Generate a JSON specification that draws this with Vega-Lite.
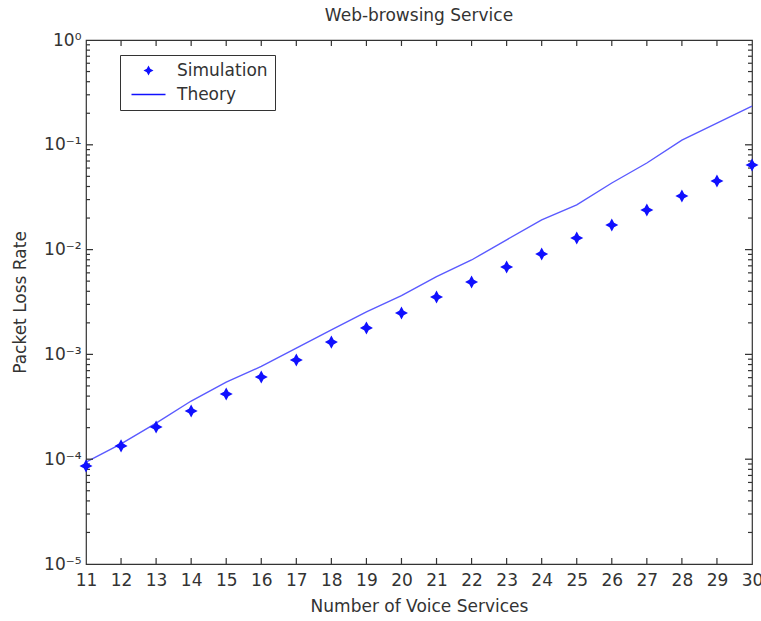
{
  "$schema": "https://vega.github.io/schema/vega-lite/v6.json",
  "width": 666,
  "height": 524,
  "autosize": "none",
  "padding": {"left": 86, "top": 40, "right": 9, "bottom": 57},
  "title": {"text": "Web-browsing Service", "font": "DejaVu Sans", "fontSize": 17, "fontWeight": "normal", "color": "#333", "offset": 6},
  "datasets": {
    "sim": [
      {"n": 11, "rate": 0.000086, "series": "Simulation"},
      {"n": 12, "rate": 0.000134, "series": "Simulation"},
      {"n": 13, "rate": 0.000203, "series": "Simulation"},
      {"n": 14, "rate": 0.000288, "series": "Simulation"},
      {"n": 15, "rate": 0.000419, "series": "Simulation"},
      {"n": 16, "rate": 0.000609, "series": "Simulation"},
      {"n": 17, "rate": 0.000885, "series": "Simulation"},
      {"n": 18, "rate": 0.00131, "series": "Simulation"},
      {"n": 19, "rate": 0.00179, "series": "Simulation"},
      {"n": 20, "rate": 0.00248, "series": "Simulation"},
      {"n": 21, "rate": 0.00353, "series": "Simulation"},
      {"n": 22, "rate": 0.00491, "series": "Simulation"},
      {"n": 23, "rate": 0.00683, "series": "Simulation"},
      {"n": 24, "rate": 0.00908, "series": "Simulation"},
      {"n": 25, "rate": 0.0129, "series": "Simulation"},
      {"n": 26, "rate": 0.0172, "series": "Simulation"},
      {"n": 27, "rate": 0.0239, "series": "Simulation"},
      {"n": 28, "rate": 0.0325, "series": "Simulation"},
      {"n": 29, "rate": 0.0451, "series": "Simulation"},
      {"n": 30, "rate": 0.0641, "series": "Simulation"}
    ],
    "theory": [
      {"n": 11, "rate": 0.000094, "series": "Theory"},
      {"n": 12, "rate": 0.00014, "series": "Theory"},
      {"n": 13, "rate": 0.000221, "series": "Theory"},
      {"n": 14, "rate": 0.000359, "series": "Theory"},
      {"n": 15, "rate": 0.000545, "series": "Theory"},
      {"n": 16, "rate": 0.000767, "series": "Theory"},
      {"n": 17, "rate": 0.00115, "series": "Theory"},
      {"n": 18, "rate": 0.00171, "series": "Theory"},
      {"n": 19, "rate": 0.00254, "series": "Theory"},
      {"n": 20, "rate": 0.00363, "series": "Theory"},
      {"n": 21, "rate": 0.00551, "series": "Theory"},
      {"n": 22, "rate": 0.00796, "series": "Theory"},
      {"n": 23, "rate": 0.0124, "series": "Theory"},
      {"n": 24, "rate": 0.0192, "series": "Theory"},
      {"n": 25, "rate": 0.0267, "series": "Theory"},
      {"n": 26, "rate": 0.0432, "series": "Theory"},
      {"n": 27, "rate": 0.067, "series": "Theory"},
      {"n": 28, "rate": 0.111, "series": "Theory"},
      {"n": 29, "rate": 0.161, "series": "Theory"},
      {"n": 30, "rate": 0.234, "series": "Theory"}
    ],
    "xbottom": [
      {"n": 12, "rate": 0.00001}, {"n": 13, "rate": 0.00001}, {"n": 14, "rate": 0.00001}, {"n": 15, "rate": 0.00001}, {"n": 16, "rate": 0.00001}, {"n": 17, "rate": 0.00001},
      {"n": 18, "rate": 0.00001}, {"n": 19, "rate": 0.00001}, {"n": 20, "rate": 0.00001}, {"n": 21, "rate": 0.00001}, {"n": 22, "rate": 0.00001}, {"n": 23, "rate": 0.00001},
      {"n": 24, "rate": 0.00001}, {"n": 25, "rate": 0.00001}, {"n": 26, "rate": 0.00001}, {"n": 27, "rate": 0.00001}, {"n": 28, "rate": 0.00001}, {"n": 29, "rate": 0.00001}
    ],
    "xtop": [
      {"n": 12, "rate": 1}, {"n": 13, "rate": 1}, {"n": 14, "rate": 1}, {"n": 15, "rate": 1}, {"n": 16, "rate": 1}, {"n": 17, "rate": 1},
      {"n": 18, "rate": 1}, {"n": 19, "rate": 1}, {"n": 20, "rate": 1}, {"n": 21, "rate": 1}, {"n": 22, "rate": 1}, {"n": 23, "rate": 1},
      {"n": 24, "rate": 1}, {"n": 25, "rate": 1}, {"n": 26, "rate": 1}, {"n": 27, "rate": 1}, {"n": 28, "rate": 1}, {"n": 29, "rate": 1}
    ],
    "yleftmajor": [
      {"n": 11, "rate": 0.0001}, {"n": 11, "rate": 0.001}, {"n": 11, "rate": 0.01}, {"n": 11, "rate": 0.1}
    ],
    "yrightmajor": [
      {"n": 30, "rate": 0.0001}, {"n": 30, "rate": 0.001}, {"n": 30, "rate": 0.01}, {"n": 30, "rate": 0.1}
    ],
    "yleftminor": [
      {"n": 11, "rate": 0.00002}, {"n": 11, "rate": 0.00003}, {"n": 11, "rate": 0.00004}, {"n": 11, "rate": 0.00005}, {"n": 11, "rate": 0.00006}, {"n": 11, "rate": 0.00007}, {"n": 11, "rate": 0.00008}, {"n": 11, "rate": 0.00009},
      {"n": 11, "rate": 0.0002}, {"n": 11, "rate": 0.0003}, {"n": 11, "rate": 0.0004}, {"n": 11, "rate": 0.0005}, {"n": 11, "rate": 0.0006}, {"n": 11, "rate": 0.0007}, {"n": 11, "rate": 0.0008}, {"n": 11, "rate": 0.0009},
      {"n": 11, "rate": 0.002}, {"n": 11, "rate": 0.003}, {"n": 11, "rate": 0.004}, {"n": 11, "rate": 0.005}, {"n": 11, "rate": 0.006}, {"n": 11, "rate": 0.007}, {"n": 11, "rate": 0.008}, {"n": 11, "rate": 0.009},
      {"n": 11, "rate": 0.02}, {"n": 11, "rate": 0.03}, {"n": 11, "rate": 0.04}, {"n": 11, "rate": 0.05}, {"n": 11, "rate": 0.06}, {"n": 11, "rate": 0.07}, {"n": 11, "rate": 0.08}, {"n": 11, "rate": 0.09},
      {"n": 11, "rate": 0.2}, {"n": 11, "rate": 0.3}, {"n": 11, "rate": 0.4}, {"n": 11, "rate": 0.5}, {"n": 11, "rate": 0.6}, {"n": 11, "rate": 0.7}, {"n": 11, "rate": 0.8}, {"n": 11, "rate": 0.9}
    ],
    "yrightminor": [
      {"n": 30, "rate": 0.00002}, {"n": 30, "rate": 0.00003}, {"n": 30, "rate": 0.00004}, {"n": 30, "rate": 0.00005}, {"n": 30, "rate": 0.00006}, {"n": 30, "rate": 0.00007}, {"n": 30, "rate": 0.00008}, {"n": 30, "rate": 0.00009},
      {"n": 30, "rate": 0.0002}, {"n": 30, "rate": 0.0003}, {"n": 30, "rate": 0.0004}, {"n": 30, "rate": 0.0005}, {"n": 30, "rate": 0.0006}, {"n": 30, "rate": 0.0007}, {"n": 30, "rate": 0.0008}, {"n": 30, "rate": 0.0009},
      {"n": 30, "rate": 0.002}, {"n": 30, "rate": 0.003}, {"n": 30, "rate": 0.004}, {"n": 30, "rate": 0.005}, {"n": 30, "rate": 0.006}, {"n": 30, "rate": 0.007}, {"n": 30, "rate": 0.008}, {"n": 30, "rate": 0.009},
      {"n": 30, "rate": 0.02}, {"n": 30, "rate": 0.03}, {"n": 30, "rate": 0.04}, {"n": 30, "rate": 0.05}, {"n": 30, "rate": 0.06}, {"n": 30, "rate": 0.07}, {"n": 30, "rate": 0.08}, {"n": 30, "rate": 0.09},
      {"n": 30, "rate": 0.2}, {"n": 30, "rate": 0.3}, {"n": 30, "rate": 0.4}, {"n": 30, "rate": 0.5}, {"n": 30, "rate": 0.6}, {"n": 30, "rate": 0.7}, {"n": 30, "rate": 0.8}, {"n": 30, "rate": 0.9}
    ]
  },
  "config": {
    "view": {"stroke": "#333", "strokeWidth": 1.2},
    "axis": {
      "domain": false,
      "grid": false,
      "ticks": false,
      "labelFont": "DejaVu Sans",
      "labelFontSize": 17,
      "labelColor": "#333",
      "titleFont": "DejaVu Sans",
      "titleFontSize": 17,
      "titleFontWeight": "normal",
      "titleColor": "#333"
    },
    "legend": {
      "labelFont": "DejaVu Sans",
      "labelFontSize": 17,
      "labelColor": "#333"
    }
  },
  "resolve": {"axis": {"x": "independent", "y": "independent"}},
  "layer": [
    {
      "data": {"name": "theory"},
      "mark": {"type": "line", "color": "#5a5aff", "strokeWidth": 1.4},
      "encoding": {
        "x": {
          "field": "n", "type": "quantitative",
          "scale": {"domain": [11, 30], "nice": false, "zero": false},
          "axis": {
            "orient": "bottom",
            "values": [11,12,13,14,15,16,17,18,19,20,21,22,23,24,25,26,27,28,29,30],
            "labelPadding": 8,
            "labelFlush": false,
            "labelOverlap": false,
            "title": "Number of Voice Services",
            "titlePadding": 10
          }
        },
        "y": {
          "field": "rate", "type": "quantitative",
          "scale": {"type": "log", "domain": [0.00001, 1], "nice": false},
          "axis": {
            "orient": "left",
            "values": [0.00001, 0.0001, 0.001, 0.01, 0.1, 1],
            "labelExpr": "round(log(datum.value)/LN10) == 0 ? '10⁰' : round(log(datum.value)/LN10) == -1 ? '10⁻¹' : round(log(datum.value)/LN10) == -2 ? '10⁻²' : round(log(datum.value)/LN10) == -3 ? '10⁻³' : round(log(datum.value)/LN10) == -4 ? '10⁻⁴' : '10⁻⁵'",
            "labelPadding": 5,
            "labelOverlap": false,
            "labelFlush": false,
            "title": "Packet Loss Rate",
            "titlePadding": 14
          }
        }
      }
    },
    {
      "data": {"name": "xbottom"},
      "mark": {"type": "point", "filled": true, "color": "#333", "opacity": 1, "strokeWidth": 0, "size": 144, "shape": "M-0.1,0L0.1,0L0.1,-1L-0.1,-1Z"},
      "encoding": {
        "x": {"field": "n", "type": "quantitative", "axis": null},
        "y": {"field": "rate", "type": "quantitative", "axis": null}
      }
    },
    {
      "data": {"name": "xtop"},
      "mark": {"type": "point", "filled": true, "color": "#333", "opacity": 1, "strokeWidth": 0, "size": 144, "shape": "M-0.1,0L0.1,0L0.1,1L-0.1,1Z"},
      "encoding": {
        "x": {"field": "n", "type": "quantitative", "axis": null},
        "y": {"field": "rate", "type": "quantitative", "axis": null}
      }
    },
    {
      "data": {"name": "yleftmajor"},
      "mark": {"type": "point", "filled": true, "color": "#333", "opacity": 1, "strokeWidth": 0, "size": 196, "shape": "M0,-0.09L1,-0.09L1,0.09L0,0.09Z"},
      "encoding": {
        "x": {"field": "n", "type": "quantitative", "axis": null},
        "y": {"field": "rate", "type": "quantitative", "axis": null}
      }
    },
    {
      "data": {"name": "yrightmajor"},
      "mark": {"type": "point", "filled": true, "color": "#333", "opacity": 1, "strokeWidth": 0, "size": 196, "shape": "M0,-0.09L-1,-0.09L-1,0.09L0,0.09Z"},
      "encoding": {
        "x": {"field": "n", "type": "quantitative", "axis": null},
        "y": {"field": "rate", "type": "quantitative", "axis": null}
      }
    },
    {
      "data": {"name": "yleftminor"},
      "mark": {"type": "point", "filled": true, "color": "#333", "opacity": 1, "strokeWidth": 0, "size": 64, "shape": "M0,-0.15L1,-0.15L1,0.15L0,0.15Z"},
      "encoding": {
        "x": {"field": "n", "type": "quantitative", "axis": null},
        "y": {"field": "rate", "type": "quantitative", "axis": null}
      }
    },
    {
      "data": {"name": "yrightminor"},
      "mark": {"type": "point", "filled": true, "color": "#333", "opacity": 1, "strokeWidth": 0, "size": 64, "shape": "M0,-0.15L-1,-0.15L-1,0.15L0,0.15Z"},
      "encoding": {
        "x": {"field": "n", "type": "quantitative", "axis": null},
        "y": {"field": "rate", "type": "quantitative", "axis": null}
      }
    },
    {
      "data": {"name": "sim"},
      "mark": {"type": "point", "filled": true, "color": "#1010ff", "size": 170, "opacity": 1},
      "encoding": {
        "x": {"field": "n", "type": "quantitative", "axis": null},
        "y": {"field": "rate", "type": "quantitative", "axis": null},
        "shape": {
          "field": "series", "type": "nominal",
          "scale": {
            "domain": ["Simulation", "Theory"],
            "range": ["M0,-1L0.35,-0.35L1,0L0.35,0.35L0,1L-0.35,0.35L-1,0L-0.35,-0.35Z", "M-3.4,-0.15L3.4,-0.15L3.4,0.15L-3.4,0.15Z"]
          },
          "legend": {
            "title": null,
            "orient": "none",
            "legendX": 34,
            "legendY": 15,
            "padding": 7,
            "rowPadding": 6,
            "strokeColor": "#333",
            "fillColor": "white",
            "symbolSize": 100,
            "symbolOffset": 13,
            "labelOffset": 20,
            "encode": {
              "symbols": {
                "update": {
                  "fill": {"signal": "datum.value === 'Theory' ? '#5a5aff' : '#1010ff'"},
                  "stroke": {"value": "transparent"},
                  "opacity": {"value": 1}
                }
              }
            }
          }
        }
      }
    }
  ]
}
